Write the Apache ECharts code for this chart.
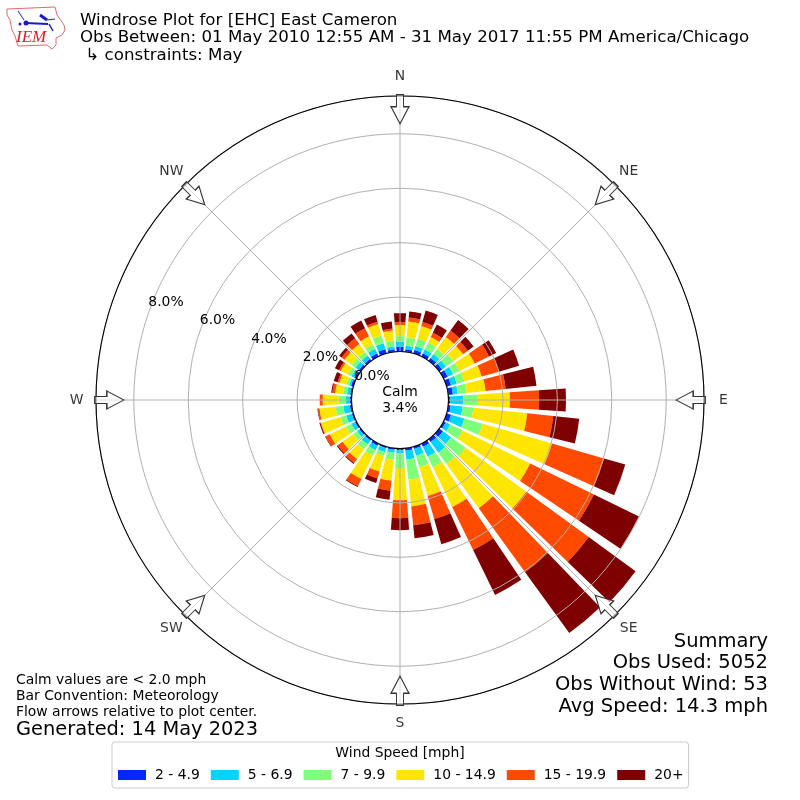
<!DOCTYPE html>
<html><head><meta charset="utf-8">
<style>html,body{margin:0;padding:0;background:#fff}#c{width:800px;height:800px}</style>
<script src="https://cdn.jsdelivr.net/npm/echarts@6/dist/echarts.min.js"></script>
</head><body><div id="c"></div>
<script>
const directions = ['0','10','20','30','40','50','60','70','80','90','100','110','120','130','140','150','160','170','180','190','200','210','220','230','240','250','260','270','280','290','300','310','320','330','340','350'];
const compassLabels = ['N','NE','E','SE','S','SW','W','NW'];
const compassAngles = [0,45,90,135,180,225,270,315];
const speedBins = ['2 - 4.9','5 - 6.9','7 - 9.9','10 - 14.9','15 - 19.9','20+'];
const binColors = ['#0028ff','#00d4ff','#7dff7a','#ffe600','#ff4a00','#7f0000'];
const speed2to5 = [.17,.09,.13,.13,.13,.13,.17,.17,.17,.06,.09,.17,.09,.17,.13,.13,.09,.09,.06,.06,.06,.09,.06,.06,.06,.06,.07,.06,.06,.09,.09,.09,.09,.13,.17,.09];
const speed5to7 = [.18,.13,.15,.15,.18,.18,.22,.22,.18,.48,.44,.51,.18,.37,.48,.40,.26,.33,.11,.11,.15,.18,.18,.11,.15,.22,.24,.15,.11,.07,.11,.15,.15,.18,.22,.11];
const speed7to10 = [.22,.31,.29,.29,.22,.33,.26,.29,.33,.51,.40,.70,.51,.66,.51,.44,.44,.74,.55,.26,.15,.22,.22,.18,.22,.22,.29,.26,.15,.11,.15,.18,.17,.18,.29,.22];
const speed10to15 = [.40,.59,.48,.22,.55,.44,.62,.66,.70,1.21,1.99,2.65,2.76,2.76,2.02,1.62,1.10,.99,1.18,.77,.59,.96,.44,.48,.66,.74,.59,.59,.29,.26,.29,.32,.35,.33,.44,.37];
const speed15to20 = [.11,.15,.15,.18,.29,.22,.59,.66,.74,1.07,.96,1.99,2.61,2.83,2.90,1.76,.88,.70,.66,.37,.26,.29,.18,.22,.17,.02,.06,.11,.11,.07,.07,.13,.26,.33,.09,.07];
const speed20plus = [.33,.22,.44,.33,.48,.26,.29,.77,1.14,.99,.96,.81,1.84,2.13,2.76,1.84,.96,.48,.44,.33,.18,.04,.04,.04,.02,.04,.02,0,.04,.15,.17,.11,.22,.32,.26,.26];
const binValues = [speed2to5,speed5to7,speed7to10,speed10to15,speed15to20,speed20plus];
const radialTicks = [0,2,4,6,8];
const radialMax = 9.39;
const arrowRadius = 8.9;
const compassLabelRadius = 10.1;

const arrowPath = 'path://M9 0 L18 17 L12.5 17 L12.5 29 L5.5 29 L5.5 17 L0 17 Z';
const bars = speedBins.map((name,i)=>({
  name, type:'bar', coordinateSystem:'polar', polarIndex:0, stack:'wind',
  barCategoryGap:'20%', data:binValues[i], itemStyle:{color:binColors[i]}, z:2,
  silent:true, animation:false
}));
const arrows = {
  name:'arrows', type:'scatter', coordinateSystem:'polar', polarIndex:1, z:6, silent:true, animation:false, clip:false,
  symbol:arrowPath, symbolSize:[18,29],
  itemStyle:{color:'rgba(255,255,255,0.6)',borderColor:'#333',borderWidth:1.2,opacity:1},
  data:compassAngles.map(a=>({value:[arrowRadius,a],symbolRotate:-(a+180)}))
};
const compassText = {
  name:'compass', type:'scatter', coordinateSystem:'polar', polarIndex:1, z:7, silent:true, animation:false, clip:false,
  symbolSize:0,
  label:{show:true,position:'inside',color:'#000',fontFamily:'DejaVu Sans',fontSize:13.9,formatter:p=>p.name},
  data:compassAngles.map((a,i)=>({name:compassLabels[i],value:[compassLabelRadius,a]}))
};
const rad=[48.5,304];
const T=(text,x,y,size,align)=>({type:'text',x,y,z:10,style:{text,x:0,y:0,fill:'#000',font:size+'px "DejaVu Sans"',align:align||'left',verticalAlign:'middle'}});
const logo=[
 {type:'polyline',z:10,shape:{points:[[7,9],[55,7],[57,15],[64,25],[65,30],[62,35],[56,38],[56,45],[52,49],[47,45],[18,46],[15,36],[12,30],[10,20],[7,15],[7,9]]},style:{stroke:'#e06a70',fill:'none',lineWidth:1}},
 {type:'line',z:10,shape:{x1:25,y1:23,x2:48,y2:24},style:{stroke:'#1a1ac8',lineWidth:2}},
 {type:'line',z:10,shape:{x1:40,y1:15,x2:47,y2:20},style:{stroke:'#1a1ac8',lineWidth:3}},
 {type:'line',z:10,shape:{x1:18,y1:11,x2:24,y2:20},style:{stroke:'#1a1ac8',lineWidth:1}},
 {type:'line',z:10,shape:{x1:47,y1:20,x2:55,y2:19},style:{stroke:'#1a1ac8',lineWidth:1}},
 {type:'line',z:10,shape:{x1:49,y1:24,x2:53,y2:31},style:{stroke:'#1a1ac8',lineWidth:1.5}},
 {type:'circle',z:10,shape:{cx:26,cy:23,r:2.5},style:{fill:'#1a1ac8'}},
 {type:'circle',z:10,shape:{cx:20,cy:24,r:1.5},style:{fill:'#1a1ac8'}},
 {type:'text',z:10,x:16,y:38,style:{text:'IEM',x:0,y:0,fill:'#d8202c',font:'italic 17px "Liberation Serif"',verticalAlign:'middle'}}
];
const option={
  animation:false,
  backgroundColor:'#fff',
  polar:[
    {center:[400,400],radius:rad},
    {center:[400,400],radius:rad},
    {center:[372,376.4],radius:[0,257]}
  ],
  angleAxis:[
    {polarIndex:0,type:'category',data:directions,startAngle:95,clockwise:true,z:1,
      axisLine:{show:false},axisTick:{show:false},axisLabel:{show:false},splitLine:{show:false},splitArea:{show:false}},
    {polarIndex:1,type:'value',min:0,max:360,interval:45,startAngle:90,clockwise:true,z:6,
      axisLine:{show:true,lineStyle:{color:'#000',width:1.1}},axisTick:{show:false},
      axisLabel:{show:false},
      splitLine:{show:true,lineStyle:{color:'#b0b0b0',width:1,type:'solid'}}},
    {polarIndex:2,type:'value',min:0,max:360,startAngle:160.2,show:false}
  ],
  radiusAxis:[
    {polarIndex:0,min:0,max:radialMax,interval:2,z:5,axisLine:{show:false},axisTick:{show:false},axisLabel:{show:false},
      splitLine:{show:true,lineStyle:{color:'#b0b0b0',width:1,type:'solid'}},splitArea:{show:false}},
    {polarIndex:1,min:0,max:radialMax,axisLine:{show:false},axisTick:{show:false},axisLabel:{show:false},splitLine:{show:false}},
    {polarIndex:2,min:0,max:radialMax,interval:2,z:7,axisLine:{show:false},axisTick:{show:false},splitLine:{show:false},
      axisLabel:{show:true,margin:0,showMaxLabel:false,align:'center',verticalAlign:'middle',color:'#000',fontFamily:'DejaVu Sans',fontSize:13.9,rotate:0,
        formatter:v=>radialTicks.includes(v)?v.toFixed(1)+'%':''}}
  ],
  legend:{
    show:true,data:speedBins,orient:'horizontal',left:112,top:742,width:640,
    padding:[26,5,6,6],itemWidth:28,itemHeight:10,itemGap:11,icon:'rect',
    borderColor:'#ccc',borderWidth:1,borderRadius:3,
    textStyle:{color:'#000',fontFamily:'DejaVu Sans',fontSize:13.9,padding:[0,0,0,4]},selectedMode:false
  },
  series:[...bars,arrows,compassText],
  graphic:{elements:[
    ...logo,
    T('Windrose Plot for [EHC] East Cameron',80,21,16.67),
    T('Obs Between: 01 May 2010 12:55 AM - 31 May 2017 11:55 PM America/Chicago',80,38,16.67),
    T(' ↳ constraints: May',80,56,16.67),
    T('Calm',400,392,13.9,'center'),
    T('3.4%',400,408,13.9,'center'),
    T('Summary',768,641.5,19.5,'right'),
    T('Obs Used: 5052',768,663,19.5,'right'),
    T('Obs Without Wind: 53',768,685,19.5,'right'),
    T('Avg Speed: 14.3 mph',768,707,19.5,'right'),
    T('Calm values are < 2.0 mph',16,680,13.9),
    T('Bar Convention: Meteorology',16,696,13.9),
    T('Flow arrows relative to plot center.',16,712,13.9),
    T('Generated: 14 May 2023',16,730,19.4),
    T('Wind Speed [mph]',400,753,13.9,'center')
  ]}
};
echarts.init(document.getElementById('c'),null,{renderer:'canvas'}).setOption(option);
</script></body></html>
